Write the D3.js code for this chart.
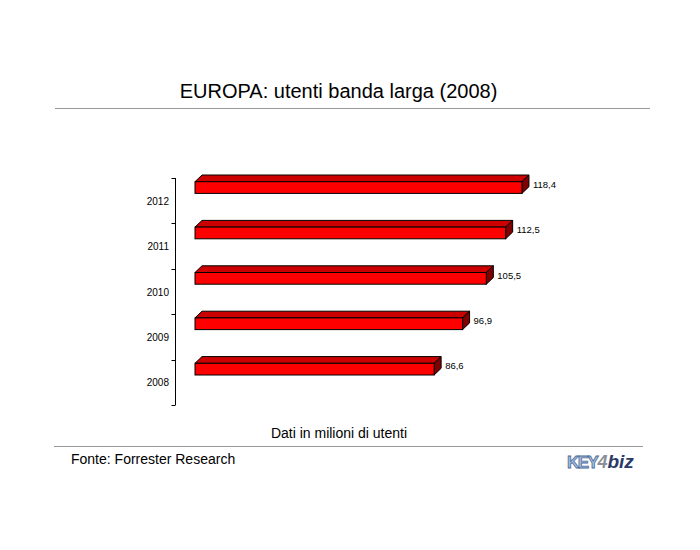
<!DOCTYPE html>
<html><head><meta charset="utf-8">
<script src="https://cdn.jsdelivr.net/npm/d3@7"></script>
<style>body{margin:0;background:#fff}svg{display:block}</style>
</head><body>
<script>
const years = ["2012","2011","2010","2009","2008"];
const values = [118.4, 112.5, 105.5, 96.9, 86.6];
const valueLabels = ["118,4","112,5","105,5","96,9","86,6"];

const W = 700, H = 550;
const svg = d3.select("body").append("svg").attr("width", W).attr("height", H);
const font = "Arial, 'Liberation Sans', sans-serif";

// title
svg.append("text").attr("x", 338.5).attr("y", 98).attr("text-anchor", "middle")
  .style("font-family", font).style("font-size", "20px").attr("fill", "#000")
  .text("EUROPA: utenti banda larga (2008)");
svg.append("line").attr("x1", 55).attr("x2", 650).attr("y1", 108.5).attr("y2", 108.5)
  .attr("stroke", "#999").attr("stroke-width", 1);

const y = d3.scaleBand().domain(years).range([178, 405]).paddingInner(0).paddingOuter(0);
const x = d3.scaleLinear().domain([0, 140]).range([195, 581.6]);

// axis
const axisG = svg.append("g").attr("transform", "translate(175.5,0)");
axisG.append("line").attr("x1", 0).attr("x2", 0).attr("y1", 178).attr("y2", 405).attr("stroke", "#000");
const tickPos = years.map(d => y(d)).concat([y.range()[1]]);
axisG.selectAll("line.tick").data(tickPos).join("line").attr("class", "tick")
  .attr("x1", -4).attr("x2", 0).attr("y1", d => Math.round(d) + 0.5).attr("y2", d => Math.round(d) + 0.5)
  .attr("stroke", "#000");
svg.selectAll("text.yl").data(years).join("text").attr("class", "yl")
  .attr("x", 169).attr("y", d => y(d) + y.bandwidth() / 2 + 4).attr("text-anchor", "end")
  .style("font-family", font).style("font-size", "10px").text(d => d);

// bars
const dx = 7, dy = 6.7, bh = 11.7, off = 3.7;
const bars = svg.selectAll("g.bar").data(years.map((d, i) => ({year: d, v: values[i], lab: valueLabels[i]})))
  .join("g").attr("class", "bar");
bars.each(function(d) {
  const g = d3.select(this);
  const x0 = x(0), x1 = x(d.v), yt = y(d.year) + off;
  g.append("polygon").attr("points", [[x0, yt], [x0 + dx, yt - dy], [x1 + dx, yt - dy], [x1, yt]].join(" "))
    .attr("fill", "#cc0000").attr("stroke", "#000").attr("stroke-width", 1).attr("stroke-linejoin", "round");
  g.append("polygon").attr("points", [[x1, yt], [x1 + dx, yt - dy], [x1 + dx, yt + bh - dy], [x1, yt + bh]].join(" "))
    .attr("fill", "#800000").attr("stroke", "#000").attr("stroke-width", 1).attr("stroke-linejoin", "round");
  g.append("rect").attr("x", x0).attr("y", yt).attr("width", x1 - x0).attr("height", bh)
    .attr("fill", "#ff0000").attr("stroke", "#000").attr("stroke-width", 1);
  g.append("text").attr("x", x1 + 11).attr("y", yt + 6).style("font-family", font).style("font-size", "9.5px")
    .text(d.lab);
});

// x axis title
svg.append("text").attr("x", 339).attr("y", 438).attr("text-anchor", "middle")
  .style("font-family", font).style("font-size", "14px").text("Dati in milioni di utenti");
svg.append("line").attr("x1", 54).attr("x2", 643).attr("y1", 446.5).attr("y2", 446.5)
  .attr("stroke", "#999").attr("stroke-width", 1);
svg.append("text").attr("x", 71).attr("y", 464).style("font-family", font).style("font-size", "14px")
  .text("Fonte: Forrester Research");

// logo
const logo = svg.append("text").attr("x", 567).attr("y", 468).style("font-family", font);
logo.append("tspan").text("KEY").attr("fill", "#a9bedb").attr("stroke", "#4a6a9a").attr("stroke-width", 0.8)
  .style("font-size", "17px").style("font-weight", "bold").attr("letter-spacing", "-1.5");
logo.append("tspan").text("4").attr("fill", "#8a8f99").style("font-size", "18px").style("font-weight", "bold").style("font-style", "italic");
logo.append("tspan").text("biz").attr("fill", "#2b3a66").style("font-size", "19px").style("font-weight", "bold").style("font-style", "italic");
</script>
</body></html>
